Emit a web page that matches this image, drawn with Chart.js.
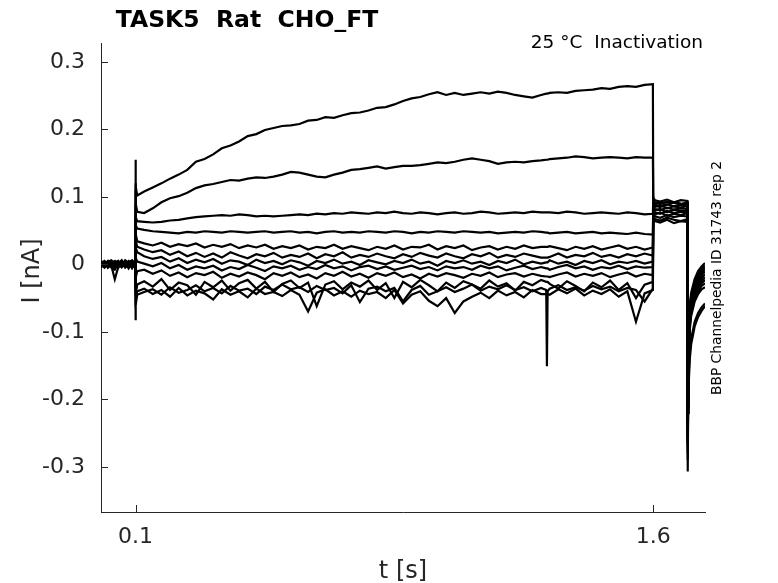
<!DOCTYPE html>
<html>
<head>
<meta charset="utf-8">
<title>TASK5 Rat CHO_FT</title>
<script src="https://cdn.jsdelivr.net/npm/chart.js@4.4.1/dist/chart.umd.min.js"></script>
<style>
    body { margin: 0; background: #fff; }
    #wrap { width: 778px; height: 583px; }
</style>
</head>
<body>
<div id="wrap"><canvas id="traces" width="778" height="583"></canvas></div>
<script>
// time points [s]: holding, step, post step, tail
const time = [
    0, 0.01, 0.02, 0.03, 0.04, 0.05, 0.06, 0.07, 0.08, 0.09, 0.099,
    0.1, 0.101, 0.105, 0.125, 0.15, 0.175, 0.2, 0.225, 0.25, 0.275,
    0.3, 0.325, 0.35, 0.375, 0.4, 0.425, 0.45, 0.475, 0.5, 0.525,
    0.55, 0.575, 0.6, 0.625, 0.65, 0.675, 0.7, 0.725, 0.75, 0.775,
    0.8, 0.825, 0.85, 0.875, 0.9, 0.925, 0.95, 0.975, 1.0, 1.025,
    1.05, 1.075, 1.1, 1.125, 1.15, 1.175, 1.2, 1.225, 1.25, 1.275,
    1.29, 1.292, 1.294, 1.3, 1.325, 1.35, 1.375, 1.4,
    1.425, 1.45, 1.475, 1.5, 1.525, 1.55, 1.575, 1.599,
    1.6, 1.601, 1.605, 1.62, 1.64, 1.66, 1.68, 1.699,
    1.7, 1.701, 1.703, 1.706, 1.71, 1.72, 1.73, 1.74, 1.75
];

// current [nA], one array per sweep
const sweep1 = [
    0.004, -0.002, 0.003, 0.001, -0.004, 0.002, 0.005, -0.001, 0.003, 0.006, 0.002,
    0.155, 0.115, 0.102, 0.108, 0.114, 0.120, 0.127, 0.133, 0.140, 0.152,
    0.156, 0.163, 0.172, 0.176, 0.182, 0.190, 0.193, 0.199, 0.202, 0.205,
    0.206, 0.208, 0.213, 0.214, 0.218, 0.217, 0.221, 0.224, 0.225, 0.228,
    0.232, 0.233, 0.237, 0.242, 0.246, 0.248, 0.252, 0.255, 0.251, 0.254,
    0.251, 0.253, 0.255, 0.253, 0.256, 0.254, 0.251, 0.249, 0.247, 0.251,
    0.253, 0.253, 0.253, 0.254, 0.255, 0.254, 0.257, 0.258,
    0.259, 0.261, 0.260, 0.263, 0.264, 0.263, 0.266, 0.267,
    0.100, 0.098, 0.095, 0.093, 0.096, 0.092, 0.095, 0.094,
    -0.220, -0.150, -0.095, -0.060, -0.042, -0.022, -0.010, -0.003, 0.002
];
const sweep2 = [
    -0.003, 0.002, -0.004, 0.003, 0.000, -0.005, 0.002, 0.004, -0.002, 0.003, -0.001,
    0.120, 0.090, 0.078, 0.076, 0.083, 0.092, 0.098, 0.101, 0.106, 0.113,
    0.117, 0.119, 0.122, 0.125, 0.124, 0.127, 0.129, 0.128, 0.130, 0.133,
    0.137, 0.136, 0.133, 0.130, 0.129, 0.133, 0.136, 0.140, 0.141, 0.143,
    0.145, 0.142, 0.144, 0.146, 0.146, 0.147, 0.149, 0.151, 0.150, 0.152,
    0.155, 0.157, 0.155, 0.153, 0.149, 0.151, 0.152, 0.151, 0.153, 0.154,
    0.155, 0.155, 0.155, 0.156, 0.157, 0.158, 0.160, 0.159,
    0.157, 0.158, 0.159, 0.158, 0.157, 0.159, 0.158, 0.158,
    0.097, 0.094, 0.092, 0.090, 0.093, 0.091, 0.089, 0.092,
    -0.230, -0.160, -0.100, -0.065, -0.046, -0.026, -0.014, -0.006, -0.002
];
const sweep3 = [
    0.002, 0.005, -0.001, -0.003, 0.004, 0.001, -0.002, 0.006, 0.002, -0.001, 0.004,
    0.090, 0.070, 0.064, 0.063, 0.062, 0.063, 0.065, 0.066, 0.068, 0.070,
    0.071, 0.072, 0.073, 0.072, 0.074, 0.073, 0.071, 0.072, 0.071, 0.072,
    0.073, 0.074, 0.073, 0.075, 0.074, 0.076, 0.075, 0.077, 0.076, 0.075,
    0.077, 0.076, 0.078, 0.076, 0.075, 0.077, 0.076, 0.074, 0.076, 0.077,
    0.075, 0.076, 0.078, 0.077, 0.075, 0.076, 0.077, 0.076, 0.078, 0.077,
    0.077, 0.077, 0.077, 0.077, 0.076, 0.078, 0.077, 0.075,
    0.076, 0.077, 0.076, 0.075, 0.077, 0.076, 0.074, 0.075,
    0.094, 0.092, 0.089, 0.091, 0.088, 0.092, 0.090, 0.089,
    -0.240, -0.165, -0.105, -0.068, -0.049, -0.029, -0.017, -0.009, -0.005
];
const sweep4 = [
    -0.001, -0.004, 0.002, 0.004, -0.006, 0.003, 0.001, -0.003, 0.005, 0.002, -0.002,
    0.070, 0.058, 0.053, 0.051, 0.049, 0.048, 0.047, 0.046, 0.048, 0.047,
    0.049, 0.048, 0.047, 0.049, 0.048, 0.047, 0.048, 0.049, 0.047, 0.048,
    0.049, 0.047, 0.048, 0.046, 0.048, 0.049, 0.047, 0.048, 0.047, 0.049,
    0.048, 0.047, 0.049, 0.048, 0.046, 0.048, 0.047, 0.049, 0.048, 0.047,
    0.049, 0.048, 0.047, 0.048, 0.046, 0.047, 0.048, 0.047, 0.049, 0.048,
    0.047, 0.047, 0.047, 0.046, 0.047, 0.048, 0.046, 0.047,
    0.048, 0.046, 0.047, 0.046, 0.045, 0.047, 0.045, 0.044,
    0.092, 0.089, 0.087, 0.085, 0.089, 0.086, 0.088, 0.087,
    -0.245, -0.170, -0.110, -0.072, -0.052, -0.032, -0.020, -0.012, -0.008
];
const sweep5 = [
    0.003, 0.000, 0.005, -0.002, -0.022, -0.004, 0.003, 0.001, -0.004, 0.004, 0.001,
    0.110, 0.045, 0.034, 0.031, 0.028, 0.032, 0.026, 0.030, 0.027, 0.031,
    0.025, 0.029, 0.026, 0.030, 0.024, 0.028, 0.025, 0.029, 0.023, 0.027,
    0.024, 0.028, 0.022, 0.026, 0.024, 0.029, 0.023, 0.027, 0.024, 0.021,
    0.026, 0.023, 0.028, 0.022, 0.026, 0.025, 0.029, 0.022, 0.027, 0.024,
    0.028, 0.021, 0.025, 0.027, 0.022, 0.026, 0.023, 0.028, 0.024, 0.026,
    0.026, 0.026, 0.026, 0.027, 0.024, 0.021, 0.026, 0.023,
    0.027, 0.022, 0.025, 0.028, 0.023, 0.026, 0.022, 0.025,
    0.090, 0.087, 0.085, 0.088, 0.083, 0.086, 0.084, 0.087,
    -0.250, -0.175, -0.115, -0.076, -0.056, -0.035, -0.024, -0.016, -0.011
];
const sweep6 = [
    -0.005, 0.003, -0.002, 0.002, -0.003, 0.004, -0.004, 0.002, 0.001, -0.003, 0.005,
    0.080, 0.035, 0.026, 0.022, 0.018, 0.021, 0.014, 0.019, 0.012, 0.017,
    0.011, 0.016, 0.010, 0.018, 0.013, 0.009, 0.015, 0.012, 0.017, 0.010,
    0.014, 0.011, 0.016, 0.009, 0.015, 0.012, 0.018, 0.010, 0.014, 0.011,
    0.016, 0.012, 0.009, 0.015, 0.011, 0.017, 0.013, 0.010, 0.016, 0.012,
    0.009, 0.015, 0.012, 0.017, 0.010, 0.014, 0.011, 0.016, 0.013, 0.010,
    0.010, 0.010, 0.010, 0.011, 0.016, 0.010, 0.014, 0.012,
    0.017, 0.011, 0.014, 0.010, 0.015, 0.012, 0.016, 0.013,
    0.088, 0.085, 0.082, 0.080, 0.084, 0.081, 0.083, 0.082,
    -0.255, -0.180, -0.120, -0.080, -0.060, -0.039, -0.028, -0.020, -0.015
];
const sweep7 = [
    0.001, -0.003, 0.004, 0.006, 0.001, -0.002, 0.003, -0.005, -0.001, 0.005, -0.003,
    0.060, 0.025, 0.018, 0.012, 0.008, 0.011, 0.004, 0.009, 0.002, 0.007,
    0.003, 0.008, 0.001, 0.006, 0.004, -0.001, 0.007, 0.002, 0.005, 0.000,
    0.006, 0.003, -0.002, 0.005, 0.002, 0.007, 0.001, 0.004, -0.001, 0.006,
    0.003, 0.000, 0.005, 0.002, 0.007, 0.001, 0.004, -0.002, 0.005, 0.002,
    0.006, 0.001, 0.004, -0.001, 0.005, 0.002, 0.007, 0.000, 0.004, 0.001,
    0.003, 0.003, 0.003, 0.006, 0.001, 0.004, -0.001, 0.005,
    0.002, 0.006, 0.000, 0.004, 0.002, 0.005, 0.001, 0.004,
    0.086, 0.083, 0.080, 0.082, 0.077, 0.081, 0.079, 0.080,
    -0.260, -0.185, -0.125, -0.084, -0.064, -0.043, -0.032, -0.024, -0.019
];
const sweep8 = [
    -0.002, 0.004, -0.005, 0.000, 0.003, 0.005, -0.003, 0.003, -0.006, 0.001, 0.003,
    0.030, 0.010, 0.004, 0.001, -0.003, 0.002, -0.006, -0.001, -0.008, -0.003,
    -0.006, -0.002, -0.009, -0.004, -0.007, -0.001, -0.005, -0.010, -0.003, -0.006,
    -0.002, -0.008, -0.004, -0.007, -0.001, -0.006, -0.003, -0.009, -0.004, -0.002,
    -0.007, -0.003, -0.008, -0.005, -0.002, -0.007, -0.004, -0.009, -0.003, -0.006,
    -0.004, -0.008, -0.002, -0.006, -0.003, -0.009, -0.005, -0.002, -0.007, -0.004,
    -0.006, -0.006, -0.006, -0.008, -0.004, -0.001, -0.006, -0.003,
    -0.008, -0.004, -0.006, -0.002, -0.007, -0.003, -0.005, -0.004,
    0.084, 0.080, 0.077, 0.075, 0.079, 0.076, 0.078, 0.077,
    -0.265, -0.190, -0.130, -0.088, -0.068, -0.047, -0.036, -0.028, -0.023
];
const sweep9 = [
    0.005, -0.001, 0.001, -0.005, -0.008, 0.002, 0.004, 0.000, 0.004, -0.004, 0.000,
    0.000, -0.020, -0.010, -0.008, -0.014, -0.009, -0.017, -0.012, -0.019, -0.013,
    -0.016, -0.011, -0.020, -0.014, -0.018, -0.012, -0.016, -0.022, -0.013, -0.017,
    -0.012, -0.019, -0.015, -0.021, -0.013, -0.017, -0.011, -0.018, -0.014, -0.020,
    -0.013, -0.017, -0.012, -0.019, -0.015, -0.021, -0.014, -0.018, -0.013, -0.016,
    -0.020, -0.014, -0.017, -0.012, -0.019, -0.015, -0.013, -0.018, -0.014, -0.017,
    -0.018, -0.018, -0.018, -0.019, -0.015, -0.012, -0.018, -0.014,
    -0.017, -0.013, -0.019, -0.015, -0.012, -0.018, -0.014, -0.016,
    0.082, 0.078, 0.074, 0.077, 0.072, 0.075, 0.073, 0.076,
    -0.270, -0.195, -0.135, -0.092, -0.072, -0.051, -0.040, -0.032, -0.028
];
const sweep10 = [
    -0.004, 0.002, 0.003, 0.002, 0.005, -0.003, -0.001, 0.005, -0.002, 0.002, -0.004,
    -0.040, -0.045, -0.030, -0.025, -0.033, -0.022, -0.038, -0.027, -0.031, -0.045,
    -0.026, -0.034, -0.024, -0.039, -0.028, -0.023, -0.036, -0.026, -0.041, -0.029,
    -0.024, -0.035, -0.027, -0.062, -0.030, -0.025, -0.037, -0.027, -0.033, -0.024,
    -0.038, -0.028, -0.050, -0.026, -0.034, -0.023, -0.031, -0.040, -0.027, -0.035,
    -0.025, -0.030, -0.036, -0.024, -0.033, -0.028, -0.039, -0.026, -0.031, -0.023,
    -0.026, -0.026, -0.026, -0.029, -0.036, -0.025, -0.032, -0.040,
    -0.027, -0.034, -0.024, -0.038, -0.028, -0.050, -0.030, -0.026,
    0.080, 0.075, 0.071, 0.069, 0.073, 0.070, 0.072, 0.071,
    -0.280, -0.200, -0.140, -0.096, -0.076, -0.055, -0.044, -0.037, -0.034
];
const sweep11 = [
    0.002, -0.005, -0.001, 0.004, -0.002, 0.001, 0.006, -0.002, 0.003, -0.006, 0.002,
    -0.060, -0.050, -0.040, -0.036, -0.044, -0.038, -0.048, -0.035, -0.046, -0.039,
    -0.043, -0.052, -0.037, -0.045, -0.040, -0.049, -0.036, -0.044, -0.041, -0.047,
    -0.038, -0.045, -0.070, -0.042, -0.037, -0.046, -0.040, -0.048, -0.039, -0.044,
    -0.041, -0.050, -0.038, -0.058, -0.045, -0.040, -0.054, -0.062, -0.050, -0.072,
    -0.055, -0.048, -0.042, -0.050, -0.039, -0.046, -0.041, -0.049, -0.038, -0.044,
    -0.044, -0.044, -0.044, -0.045, -0.037, -0.043, -0.036, -0.046,
    -0.039, -0.044, -0.037, -0.048, -0.040, -0.085, -0.043, -0.038,
    0.078, 0.072, 0.067, 0.065, 0.069, 0.066, 0.064, 0.067,
    -0.290, -0.210, -0.160, -0.130, -0.110, -0.085, -0.072, -0.064, -0.058
];
const sweep12 = [
    0.000, 0.003, -0.003, -0.002, 0.002, -0.001, -0.004, 0.002, -0.003, 0.001, -0.005,
    -0.083, -0.060, -0.045, -0.041, -0.037, -0.045, -0.034, -0.042, -0.038, -0.031,
    -0.040, -0.035, -0.043, -0.032, -0.039, -0.036, -0.044, -0.033, -0.038, -0.030,
    -0.037, -0.034, -0.041, -0.032, -0.038, -0.035, -0.043, -0.031, -0.056, -0.036,
    -0.033, -0.040, -0.035, -0.055, -0.038, -0.032, -0.045, -0.040, -0.034, -0.041,
    -0.036, -0.030, -0.039, -0.033, -0.037, -0.031, -0.038, -0.034, -0.040, -0.035,
    -0.038, -0.151, -0.040, -0.036, -0.031, -0.038, -0.034, -0.039,
    -0.032, -0.037, -0.033, -0.040, -0.035, -0.038, -0.055, -0.036,
    0.076, 0.070, 0.064, 0.062, 0.066, 0.061, 0.064, 0.063,
    -0.307, -0.220, -0.175, -0.140, -0.118, -0.092, -0.078, -0.069, -0.062
];

const xTicks = [0.1, 1.6];
const yTicks = [-0.3, -0.2, -0.1, 0, 0.1, 0.2, 0.3];

const axisColor = '#262626';
const fontFamily = "'DejaVu Sans', 'Liberation Sans', sans-serif";

const sweeps = [sweep1, sweep2, sweep3, sweep4, sweep5, sweep6,
    sweep7, sweep8, sweep9, sweep10, sweep11, sweep12];

const datasets = sweeps.map((sweep) => ({
    data: sweep.map((v, i) => ({ x: time[i], y: v })),
    borderColor: '#000',
    borderWidth: 2.2,
    pointRadius: 0,
    fill: false,
    tension: 0
}));

// inward ticks + the texts around the axes
const decor = {
    id: 'decor',
    afterDraw: (chart) => {
        const ctx = chart.ctx;
        const area = chart.chartArea;
        const xs = chart.scales.x;
        const ys = chart.scales.y;
        ctx.save();
        ctx.strokeStyle = axisColor;
        ctx.lineWidth = 1;
        ctx.beginPath();
        yTicks.forEach(v => {
            const py = Math.round(ys.getPixelForValue(v)) + 0.5;
            ctx.moveTo(area.left, py);
            ctx.lineTo(area.left + 7, py);
        });
        xTicks.forEach(v => {
            const px = Math.round(xs.getPixelForValue(v)) + 0.5;
            ctx.moveTo(px, area.bottom);
            ctx.lineTo(px, area.bottom - 7);
        });
        ctx.stroke();

        ctx.fillStyle = '#000';
        ctx.textAlign = 'center';
        ctx.textBaseline = 'alphabetic';
        ctx.font = 'bold 23.5px ' + fontFamily;
        ctx.fillText('TASK5  Rat  CHO_FT', 247, 27);

        ctx.fillStyle = axisColor;
        ctx.font = '24px ' + fontFamily;
        ctx.fillText('t [s]', 403, 578);

        ctx.save();
        ctx.translate(39, 271);
        ctx.rotate(-Math.PI / 2);
        ctx.fillText('I [nA]', 0, 0);
        ctx.restore();

        ctx.fillStyle = '#000';
        ctx.textAlign = 'right';
        ctx.font = '18.5px ' + fontFamily;
        ctx.fillText('25 \u00B0C  Inactivation', 703, 48);

        ctx.save();
        ctx.translate(721, 278);
        ctx.rotate(-Math.PI / 2);
        ctx.textAlign = 'center';
        ctx.font = '13.8px ' + fontFamily;
        ctx.fillText('BBP Channelpedia ID 31743 rep 2', 0, 0);
        ctx.restore();

        ctx.restore();
    }
};

const chart = new Chart(document.getElementById('traces'), {
    type: 'line',
    data: { datasets: datasets },
    options: {
        responsive: false,
        animation: false,
        devicePixelRatio: 1,
        layout: { padding: { top: 43, right: 73, left: 0, bottom: 0 } },
        plugins: {
            legend: { display: false },
            tooltip: { enabled: false },
            title: { display: false }
        },
        scales: {
            x: {
                type: 'linear',
                min: 0,
                max: 1.75,
                afterFit: (scale) => { scale.height = 71; },
                afterBuildTicks: (scale) => { scale.ticks = xTicks.map(v => ({ value: v })); },
                grid: { display: false, drawTicks: false },
                border: { display: true, color: axisColor, width: 1 },
                ticks: {
                    padding: 12,
                    maxRotation: 0,
                    autoSkip: false,
                    color: axisColor,
                    font: { family: fontFamily, size: 22 },
                    callback: (v) => String(v)
                }
            },
            y: {
                type: 'linear',
                min: -0.367,
                max: 0.328,
                afterFit: (scale) => { scale.width = 101; },
                afterBuildTicks: (scale) => { scale.ticks = yTicks.map(v => ({ value: v })); },
                grid: { display: false, drawTicks: false },
                border: { display: true, color: axisColor, width: 1 },
                ticks: {
                    padding: 16,
                    autoSkip: false,
                    color: axisColor,
                    font: { family: fontFamily, size: 22 },
                    callback: (v) => String(Math.round(v * 10) / 10)
                }
            }
        }
    },
    plugins: [decor]
});
</script>
</body>
</html>
